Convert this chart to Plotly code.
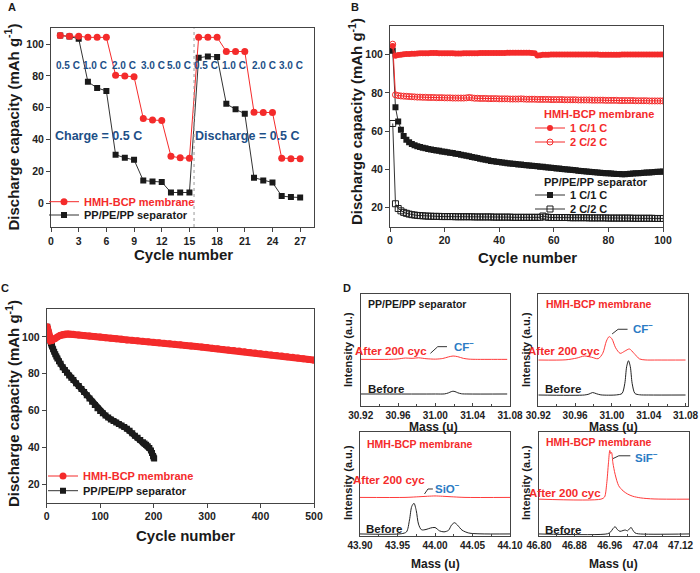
import plotly.graph_objects as go

W, H = 700, 573
def fx(px): return px / W
def fy(py): return 1 - py / H

RED = '#f42b2b'
BLACK = '#1a1a1a'
BLUE_A = '#1d4f87'
BLUE_D = '#2a7bc4'
FONT = 'Arial, Liberation Sans, sans-serif'

# ---------------- Panel A data ----------------
a_cycles = list(range(1, 28))
a_hmh = [105.5, 105.0, 105.0, 104.3, 104.3, 104.3, 80.5, 80.0, 79.5, 53.3, 52.3, 52.0, 29.5, 28.5, 28.3,
         104.3, 104.3, 104.3, 95.4, 95.4, 95.4, 57.2, 57.0, 57.0, 28.3, 28.0, 28.0]
a_pp = [105.5, 104.8, 103.5, 76.3, 72.5, 70.6, 30.5, 28.5, 27.3, 14.2, 13.7, 13.3, 6.7, 6.7, 6.7,
        91.5, 92.3, 92.0, 62.5, 59.0, 56.3, 16.0, 14.3, 13.0, 4.5, 3.8, 3.6]
a_rate_labels = ['0.5 C', '1.0 C', '2.0 C', '3.0 C', '5.0 C', '0.5 C', '1.0 C', '2.0 C', '3.0 C']

# ---------------- Panel B data ----------------
b_cycles = list(range(1, 101))
b_hmh_1c = [104.5, 99.5, 99.8, 100.0, 100.2, 100.3, 100.4, 100.5, 100.5, 100.6,
            100.7, 100.7, 100.8, 100.8, 100.9, 100.9, 100.9, 100.8, 100.8, 100.8,
            100.7, 100.7, 100.7, 100.6, 100.6, 100.6, 100.7, 100.7, 100.8, 100.8,
            100.8, 100.8, 100.9, 100.9, 100.9, 100.9, 100.9, 100.9, 100.9, 100.9,
            100.9, 100.9, 101.0, 101.0, 101.0, 101.0, 101.0, 101.0, 101.0, 101.0,
            101.0, 100.9, 100.7, 99.6, 99.7, 99.9, 100.0, 100.0, 100.1, 100.1,
            100.1, 100.1, 100.1, 100.1, 100.1, 100.1, 100.1, 100.1, 100.1, 100.1,
            100.1, 100.1, 100.1, 100.1, 100.1, 100.1, 100.0, 100.0, 100.0, 100.0,
            100.0, 100.0, 100.0, 100.0, 100.1, 100.1, 100.1, 100.1, 100.1, 100.1,
            100.1, 100.1, 100.1, 100.1, 100.1, 100.1, 100.1, 100.1, 100.1, 100.1]
b_hmh_2c = [105.5, 79.0, 78.6, 78.4, 78.3, 78.2, 78.1, 78.0, 77.9, 77.8,
            77.8, 77.7, 77.7, 77.6, 77.6, 77.6, 77.5, 77.5, 77.5, 77.4,
            77.4, 77.4, 77.3, 77.3, 77.3, 77.3, 77.3, 77.4, 77.6, 77.4,
            77.2, 77.2, 77.1, 77.1, 77.1, 77.0, 77.0, 77.0, 77.0, 76.9,
            76.9, 76.9, 76.9, 76.8, 76.8, 76.8, 76.8, 76.9, 76.8, 76.7,
            76.7, 76.7, 76.7, 76.6, 76.6, 76.6, 76.6, 76.6, 76.5, 76.5,
            76.5, 76.5, 76.5, 76.4, 76.4, 76.4, 76.4, 76.4, 76.3, 76.3,
            76.3, 76.3, 76.3, 76.2, 76.2, 76.2, 76.2, 76.2, 76.1, 76.1,
            76.1, 76.1, 76.1, 76.0, 76.0, 76.0, 76.0, 76.0, 76.0, 75.9,
            75.9, 75.9, 75.9, 75.9, 75.8, 75.8, 75.8, 75.8, 75.8, 75.8]
b_pp_1c = [102.0, 72.5, 65.0, 60.7, 57.5, 55.5, 54.2, 53.3, 52.6, 52.1,
           51.7, 51.3, 51.0, 50.7, 50.4, 50.1, 49.9, 49.7, 49.4, 49.2,
           49.0, 48.7, 48.5, 48.2, 48.0, 47.7, 47.4, 47.1, 46.8, 46.5,
           46.2, 45.9, 45.6, 45.3, 45.0, 44.7, 44.4, 44.2, 44.0, 43.8,
           43.6, 43.4, 43.2, 43.1, 42.9, 42.8, 42.6, 42.5, 42.3, 42.2,
           42.0, 41.9, 41.7, 41.6, 41.4, 41.3, 41.1, 41.0, 40.8, 40.7,
           40.5, 40.4, 40.2, 40.1, 39.9, 39.8, 39.6, 39.5, 39.3, 39.2,
           39.0, 38.9, 38.7, 38.6, 38.5, 38.3, 38.2, 38.1, 38.0, 37.9,
           37.8, 37.7, 37.6, 37.6, 37.5, 37.5, 37.6, 37.7, 37.8, 37.9,
           38.0, 38.1, 38.2, 38.3, 38.4, 38.5, 38.6, 38.7, 38.8, 38.9]
b_pp_2c = [64.0, 22.0, 19.5, 18.3, 17.5, 17.0, 16.6, 16.3, 16.1, 15.9,
           15.8, 15.7, 15.6, 15.5, 15.5, 15.4, 15.4, 15.4, 15.3, 15.3,
           15.3, 15.3, 15.3, 15.2, 15.2, 15.2, 15.2, 15.2, 15.2, 15.2,
           15.1, 15.1, 15.1, 15.1, 15.1, 15.1, 15.1, 15.0, 15.0, 15.0,
           15.0, 15.0, 15.0, 15.0, 14.9, 14.9, 14.9, 14.9, 14.9, 14.9,
           14.9, 14.9, 14.9, 14.9, 14.9, 15.6, 15.1, 14.9, 14.8, 14.8,
           14.8, 14.8, 14.8, 14.8, 14.8, 14.7, 14.7, 14.7, 14.7, 14.7,
           14.7, 14.7, 14.6, 14.6, 14.6, 14.6, 14.6, 14.6, 14.6, 14.5,
           14.5, 14.5, 14.5, 14.5, 14.5, 14.5, 14.5, 14.5, 14.4, 14.4,
           14.4, 14.4, 14.4, 14.4, 14.4, 14.4, 14.3, 14.3, 14.3, 14.3]

# ---------------- Panel C data ----------------
c_hmh_cycles = [1, 2, 3, 4, 5, 6, 7, 8, 9, 10, 15, 20, 25, 30, 35, 40, 45, 50,
                60, 70, 80, 90, 100, 110, 120, 130, 140, 150, 160, 170, 180, 190, 200,
                210, 220, 230, 240, 250, 260, 270, 280, 290, 300, 310, 320, 330, 340, 350,
                360, 370, 380, 390, 400, 410, 420, 430, 440, 450, 460, 470, 480, 490, 500]
c_hmh = [105.5, 103.5, 101.5, 99.5, 98.8, 98.3, 98.1, 98.0, 98.1, 98.2, 99.0, 100.0, 100.8, 101.3, 101.6, 101.6, 101.5, 101.4,
         101.1, 100.8, 100.5, 100.2, 99.9, 99.6, 99.3, 99.0, 98.7, 98.4, 98.2, 97.9, 97.6, 97.4, 97.1,
         96.8, 96.6, 96.3, 96.0, 95.7, 95.4, 95.1, 94.8, 94.5, 94.2, 93.9, 93.6, 93.2, 92.9, 92.6,
         92.3, 91.9, 91.6, 91.3, 90.9, 90.6, 90.2, 89.9, 89.6, 89.2, 88.9, 88.5, 88.2, 87.8, 87.4]
c_pp_cycles = [1, 2, 3, 4, 5, 6, 7, 8, 9, 10, 12, 14, 16, 18, 20, 23, 26, 30, 34, 38, 42, 46, 50,
               55, 60, 65, 70, 75, 80, 85, 90, 95, 100, 105, 110, 115, 120, 125, 130, 135, 140,
               145, 150, 155, 160, 165, 170, 175, 180, 183, 186, 189, 192, 195, 197, 199, 200, 201]
c_pp = [105.5, 104.0, 102.5, 101.0, 99.8, 98.7, 97.6, 96.6, 95.7, 94.8, 93.3, 91.9, 90.6, 89.4, 88.3, 86.8, 85.4,
        83.6, 82.0, 80.5, 79.1, 77.8, 76.6, 74.8, 73.3, 71.7, 70.1, 68.4, 66.6, 64.8, 63.0, 61.3, 59.8,
        58.5, 57.3, 56.2, 55.2, 54.3, 53.5, 52.7, 51.9, 51.1, 50.2, 49.0, 47.7, 46.4, 45.2, 44.1, 42.8,
        42.1, 41.4, 40.7, 39.7, 38.4, 37.0, 35.4, 34.6, 34.0]

# ---------------- Panel D data ----------------
d1_before_x = [30.92, 31.00, 31.010, 31.014, 31.017, 31.019, 31.021, 31.024, 31.028, 31.035, 31.077]
d1_before_y = [0.105, 0.105, 0.106, 0.115, 0.126, 0.130, 0.127, 0.116, 0.107, 0.105, 0.105]
d1_after_x = [30.92, 30.95, 30.96, 30.968, 30.975, 30.982, 30.99, 31.00, 31.008, 31.014, 31.019, 31.024,
              31.03, 31.036, 31.045, 31.06, 31.077]
d1_after_y = [0.416, 0.416, 0.420, 0.428, 0.425, 0.430, 0.422, 0.418, 0.424, 0.438, 0.446, 0.440,
              0.425, 0.418, 0.416, 0.416, 0.416]

d2_before_x = [30.92, 30.97, 30.975, 30.979, 30.983, 30.988, 31.005, 31.011, 31.014, 31.016, 31.018,
               31.020, 31.022, 31.025, 31.03, 31.04, 31.08]
d2_before_y = [0.096, 0.096, 0.104, 0.118, 0.108, 0.097, 0.097, 0.110, 0.200, 0.350, 0.404,
               0.350, 0.200, 0.110, 0.098, 0.096, 0.096]
d2_after_x = [30.92, 30.95, 30.962, 30.97, 30.978, 30.985, 30.99, 30.994, 30.997, 31.0, 31.004, 31.009,
              31.014, 31.019, 31.024, 31.03, 31.036, 31.05, 31.08]
d2_after_y = [0.410, 0.412, 0.428, 0.446, 0.435, 0.422, 0.470, 0.580, 0.620, 0.600, 0.520, 0.470,
              0.490, 0.509, 0.470, 0.420, 0.411, 0.410, 0.410]

d3_before_x = [43.90, 43.955, 43.962, 43.966, 43.969, 43.972, 43.975, 43.978, 43.982, 43.988, 43.994,
               44.0, 44.006, 44.012, 44.018, 44.022, 44.026, 44.030, 44.036, 44.045, 44.06, 44.10]
d3_before_y = [0.015, 0.017, 0.035, 0.150, 0.280, 0.310, 0.240, 0.110, 0.055, 0.058, 0.072,
               0.077, 0.045, 0.035, 0.050, 0.100, 0.123, 0.100, 0.052, 0.024, 0.016, 0.015]
d3_after_x = [43.90, 43.96, 43.975, 43.99, 44.0, 44.01, 44.025, 44.04, 44.10]
d3_after_y = [0.367, 0.367, 0.372, 0.378, 0.381, 0.378, 0.372, 0.367, 0.367]

d4_before_x = [46.80, 46.955, 46.962, 46.967, 46.972, 46.977, 46.983, 46.99, 46.995, 47.0, 47.004,
               47.008, 47.012, 47.017, 47.025, 47.139]
d4_before_y = [0.015, 0.017, 0.035, 0.065, 0.085, 0.058, 0.040, 0.048, 0.053, 0.045, 0.062,
               0.078, 0.052, 0.025, 0.016, 0.015]
d4_after_x = [46.80, 46.94, 46.948, 46.953, 46.957, 46.960, 46.962, 46.964, 46.967, 46.972, 46.98,
              46.99, 47.0, 47.012, 47.03, 47.06, 47.139]
d4_after_y = [0.350, 0.350, 0.370, 0.500, 0.700, 0.820, 0.790, 0.800, 0.700, 0.590, 0.480,
              0.430, 0.400, 0.378, 0.362, 0.352, 0.350]

# ---------------- Figure ----------------
fig = go.Figure()

# Panel A traces
fig.add_trace(go.Scatter(x=a_cycles, y=a_pp, mode='lines+markers', name='PP/PE/PP separator',
                         line=dict(color='#333', width=1), marker=dict(symbol='square', size=6, color=BLACK),
                         xaxis='x', yaxis='y', legend='legend2'))
fig.add_trace(go.Scatter(x=a_cycles, y=a_hmh, mode='lines+markers', name='HMH-BCP membrane',
                         line=dict(color=RED, width=1), marker=dict(symbol='circle', size=7, color=RED),
                         xaxis='x', yaxis='y', legend='legend'))

# Panel B traces
fig.add_trace(go.Scatter(x=b_cycles, y=b_pp_2c, mode='lines+markers', name='2 C/2 C',
                         line=dict(color='#333', width=1), marker=dict(symbol='square-open', size=6, color=BLACK, line=dict(width=1)),
                         xaxis='x2', yaxis='y2', legend='legend6'))
fig.add_trace(go.Scatter(x=b_cycles, y=b_pp_1c, mode='lines+markers', name='1 C/1 C',
                         line=dict(color='#333', width=1), marker=dict(symbol='square', size=6, color=BLACK),
                         xaxis='x2', yaxis='y2', legend='legend5'))
fig.add_trace(go.Scatter(x=b_cycles, y=b_hmh_2c, mode='lines+markers', name='2 C/2 C',
                         line=dict(color=RED, width=1), marker=dict(symbol='circle-open', size=6, color=RED, line=dict(width=1)),
                         xaxis='x2', yaxis='y2', legend='legend4'))
fig.add_trace(go.Scatter(x=b_cycles, y=b_hmh_1c, mode='lines+markers', name='1 C/1 C',
                         line=dict(color=RED, width=1), marker=dict(symbol='circle', size=6, color=RED),
                         xaxis='x2', yaxis='y2', legend='legend3'))

# Panel C traces (thick band + marker trace for legend)
fig.add_trace(go.Scatter(x=c_pp_cycles, y=c_pp, mode='lines', line=dict(color=BLACK, width=6),
                         xaxis='x3', yaxis='y3', showlegend=False))
fig.add_trace(go.Scatter(x=c_pp_cycles, y=c_pp, mode='lines+markers', name='PP/PE/PP separator',
                         line=dict(color='#333', width=1), marker=dict(symbol='square', size=6, color=BLACK),
                         xaxis='x3', yaxis='y3', legend='legend8'))
fig.add_trace(go.Scatter(x=c_hmh_cycles, y=c_hmh, mode='lines', line=dict(color=RED, width=7),
                         xaxis='x3', yaxis='y3', showlegend=False))
fig.add_trace(go.Scatter(x=c_hmh_cycles, y=c_hmh, mode='lines+markers', name='HMH-BCP membrane',
                         line=dict(color=RED, width=1), marker=dict(symbol='circle', size=7, color=RED),
                         xaxis='x3', yaxis='y3', legend='legend7'))

# Panel D traces
d_sets = [
    (d1_before_x, d1_before_y, d1_after_x, d1_after_y, 'x4', 'y4'),
    (d2_before_x, d2_before_y, d2_after_x, d2_after_y, 'x5', 'y5'),
    (d3_before_x, d3_before_y, d3_after_x, d3_after_y, 'x6', 'y6'),
    (d4_before_x, d4_before_y, d4_after_x, d4_after_y, 'x7', 'y7'),
]
for bx, by, ax_, ay, xa, ya in d_sets:
    fig.add_trace(go.Scatter(x=bx, y=by, mode='lines', line=dict(color='#222', width=1, shape='spline', smoothing=0.8),
                             xaxis=xa, yaxis=ya, showlegend=False))
    fig.add_trace(go.Scatter(x=ax_, y=ay, mode='lines', line=dict(color='#ff3b3b', width=1, shape='spline', smoothing=0.8),
                             xaxis=xa, yaxis=ya, showlegend=False))

# ---------------- Axes ----------------
TICKFONT = dict(family=FONT, size=10.5, color='#222', weight='bold')
def ax(**kw):
    d = dict(showline=True, linecolor='#444', linewidth=1, mirror=True, ticks='outside', ticklen=4,
             tickwidth=1, tickcolor='#444', showgrid=False, zeroline=False, tickfont=TICKFONT, automargin=False)
    d.update(kw)
    return d

DFONT = dict(family=FONT, size=10, color='#222', weight='bold')
def dx(rng, tv, ttxt, dom, anchor, minor):
    return ax(range=rng, tickvals=tv, ticktext=ttxt, domain=dom, anchor=anchor, tickfont=DFONT,
              ticks='inside', ticklen=3, ticklabeloverflow='allow',
              minor=dict(dtick=minor, ticks='inside', ticklen=2, tickcolor='#444', showgrid=False))
def dy(dom, anchor):
    return ax(range=[0, 1], domain=dom, anchor=anchor, showticklabels=False, ticks='')

fig.update_layout(
    width=W, height=H, margin=dict(l=0, r=0, t=0, b=0, pad=0, autoexpand=False),
    paper_bgcolor='white', plot_bgcolor='white',
    font=dict(family=FONT, color='#222'),
    xaxis=ax(domain=[fx(51), fx(314)], range=[0, 28.5], tickvals=list(range(0, 28, 3)), anchor='y'),
    yaxis=ax(domain=[fy(227), fy(28.3)], range=[-15, 110], tickvals=[0, 20, 40, 60, 80, 100], anchor='x'),
    xaxis2=ax(domain=[fx(390), fx(663)], range=[0, 100], tickvals=[0, 20, 40, 60, 80, 100], anchor='y2'),
    yaxis2=ax(domain=[fy(226.7), fy(26)], range=[10, 115], tickvals=[20, 40, 60, 80, 100], anchor='x2'),
    xaxis3=ax(domain=[fx(46.7), fx(314)], range=[0, 500], tickvals=[0, 100, 200, 300, 400, 500], anchor='y3'),
    yaxis3=ax(domain=[fy(502.7), fy(309.3)], range=[10, 115], tickvals=[20, 40, 60, 80, 100], anchor='x3'),
    xaxis4=dx([30.92, 31.08], [30.92, 30.96, 31.00, 31.04, 31.08], ['30.92', '30.96', '31.00', '31.04', '31.08'],
              [fx(360.7), fx(510)], 'y4', 0.02),
    yaxis4=dy([fy(405.7), fy(294.3)], 'x4'),
    xaxis5=dx([30.92, 31.083], [30.92, 30.96, 31.00, 31.04, 31.08], ['30.92', '30.96', '31.00', '31.04', '31.08'],
              [fx(538.3), fx(688.3)], 'y5', 0.02),
    yaxis5=dy([fy(405.7), fy(294.3)], 'x5'),
    xaxis6=dx([43.90, 44.10], [43.90, 43.95, 44.00, 44.05, 44.10], ['43.90', '43.95', '44.00', '44.05', '44.10'],
              [fx(360), fx(510)], 'y6', 0.025),
    yaxis6=dy([fy(535.5), fy(431.7)], 'x6'),
    xaxis7=dx([46.80, 47.139], [46.80, 46.88, 46.96, 47.04, 47.12], ['46.80', '46.88', '46.96', '47.04', '47.12'],
              [fx(539), fx(689)], 'y7', 0.04),
    yaxis7=dy([fy(535.5), fy(431.7)], 'x7'),
)

# ---------------- Legends ----------------
def leg(xpx, ypx, color):
    return dict(x=fx(xpx), y=fy(ypx), xanchor='left', yanchor='middle', bgcolor='rgba(0,0,0,0)',
                borderwidth=0, itemwidth=30, font=dict(family=FONT, size=11, color=color, weight='bold'))

fig.update_layout(
    legend=leg(44, 201.7, RED),
    legend2=leg(44, 215, BLACK),
    legend3=leg(530, 128, RED),
    legend4=leg(530, 142, RED),
    legend5=leg(530, 195, BLACK),
    legend6=leg(530, 209, BLACK),
    legend7=leg(43, 476, RED),
    legend8=leg(43, 490.7, BLACK),
)

# ---------------- Annotations ----------------
ann = []
def txt(x, y, s, size, color=BLACK, bold=True, xanchor='center', yanchor='middle', xref='paper', yref='paper', angle=0):
    ann.append(dict(x=x, y=y, text=s, xref=xref, yref=yref, xanchor=xanchor, yanchor=yanchor, showarrow=False,
                    textangle=angle, font=dict(family=FONT, size=size, color=color, weight='bold' if bold else 'normal')))

# panel letters
txt(fx(12), fy(7), 'A', 11)
txt(fx(355), fy(7), 'B', 11)
txt(fx(5), fy(288), 'C', 11)
txt(fx(347), fy(288), 'D', 11)

YT = 'Discharge capacity (mAh g<sup>-1</sup>)'
txt(fx(12), fy(127.5), YT, 15, angle=-90)
txt(fx(356), fy(122), YT, 15, angle=-90)
txt(fx(12), fy(404), YT, 15, angle=-90)
txt(fx(183), fy(255), 'Cycle number', 15)
txt(fx(527), fy(258), 'Cycle number', 15)
txt(fx(185), fy(535), 'Cycle number', 15)

# Panel A rate labels
a_rate_x = [1.8, 4.8, 7.9, 11.1, 13.9, 16.8, 19.8, 23.1, 26.0]
for xv, lab in zip(a_rate_x, a_rate_labels):
    txt(xv, 86.8, lab, 10, color=BLUE_A, xref='x', yref='y')
txt(5.1, 42, 'Charge = 0.5 C', 12.5, color=BLUE_A, xref='x', yref='y')
txt(21.3, 42, 'Discharge = 0.5 C', 12.5, color=BLUE_A, xref='x', yref='y')

# Panel B legend titles
txt(fx(541.5), fy(114), 'HMH-BCP membrane', 11, color=RED, xanchor='left')
txt(fx(541.5), fy(181.7), 'PP/PE/PP separator', 11, color=BLACK, xanchor='left')

# Panel D labels
d_ax = ['4', '5', '6', '7']
d_titles = [('PP/PE/PP separator', BLACK), ('HMH-BCP membrane', RED), ('HMH-BCP membrane', RED), ('HMH-BCP membrane', RED)]
d_title_pos = [(0.033, 0.91), (0.04, 0.91), (0.033, 0.88), (0.035, 0.90)]
d_after_pos = [(0.456, 0.49), (0.427, 0.494), (0.448, 0.53), (0.426, 0.413)]
d_ion = ['CF<sup>−</sup>', 'CF<sup>−</sup>', 'SiO<sup>−</sup>', 'SiF<sup>−</sup>']
d_ion_pos = [(0.611, 0.54), (0.617, 0.695), (0.488, 0.455), (0.625, 0.756)]
d_before_pos = [(0.033, 0.15), (0.033, 0.147), (0.029, 0.058), (0.029, 0.054)]
d_leader = [((0.467, 0.47), (0.516, 0.53), (0.578, 0.53)),
            ((0.492, 0.644), (0.532, 0.686), (0.595, 0.686)),
            ((0.43, 0.40), (0.453, 0.448), (0.486, 0.448)),
            ((0.492, 0.74), (0.532, 0.768), (0.609, 0.768))]
shapes = []
for i, a in enumerate(d_ax):
    xr, yr = 'x%s domain' % a, 'y%s domain' % a
    t, c = d_titles[i]
    txt(d_title_pos[i][0], d_title_pos[i][1], t, 10.5, color=c, xanchor='left', xref=xr, yref=yr)
    txt(d_after_pos[i][0], d_after_pos[i][1], 'After 200 cyc', 11.5, color=RED, xanchor='right', xref=xr, yref=yr)
    txt(d_ion_pos[i][0], d_ion_pos[i][1], d_ion[i], 11.5, color=BLUE_D, xanchor='left', xref=xr, yref=yr)
    txt(d_before_pos[i][0], d_before_pos[i][1], 'Before', 11.5, color=BLACK, xanchor='left', xref=xr, yref=yr)
    p0, p1, p2 = d_leader[i]
    for (u0, v0), (u1, v1) in ((p0, p1), (p1, p2)):
        shapes.append(dict(type='line', xref=xr, yref=yr, x0=u0, y0=v0, x1=u1, y1=v1,
                           line=dict(color='#333', width=1)))

# D axis titles
for cx, cy in [(433, 427), (613, 427), (435, 564), (613, 564)]:
    txt(fx(cx), fy(cy), 'Mass (u)', 12)
for cx, cy in [(348, 350), (526, 350), (348, 483), (526, 483)]:
    txt(fx(cx), fy(cy), 'Intensity (a.u.)', 11, angle=-90)

# dotted separator in A
shapes.append(dict(type='line', xref='x', yref='y domain', x0=15.5, x1=15.5, y0=0, y1=1,
                   line=dict(color='#999', width=1, dash='dot')))

fig.update_layout(annotations=ann, shapes=shapes)
fig.write_html('out.html', config={'displayModeBar': False},
               post_script="document.body.style.margin='0px';document.body.style.padding='0px';document.body.style.overflow='hidden';")
